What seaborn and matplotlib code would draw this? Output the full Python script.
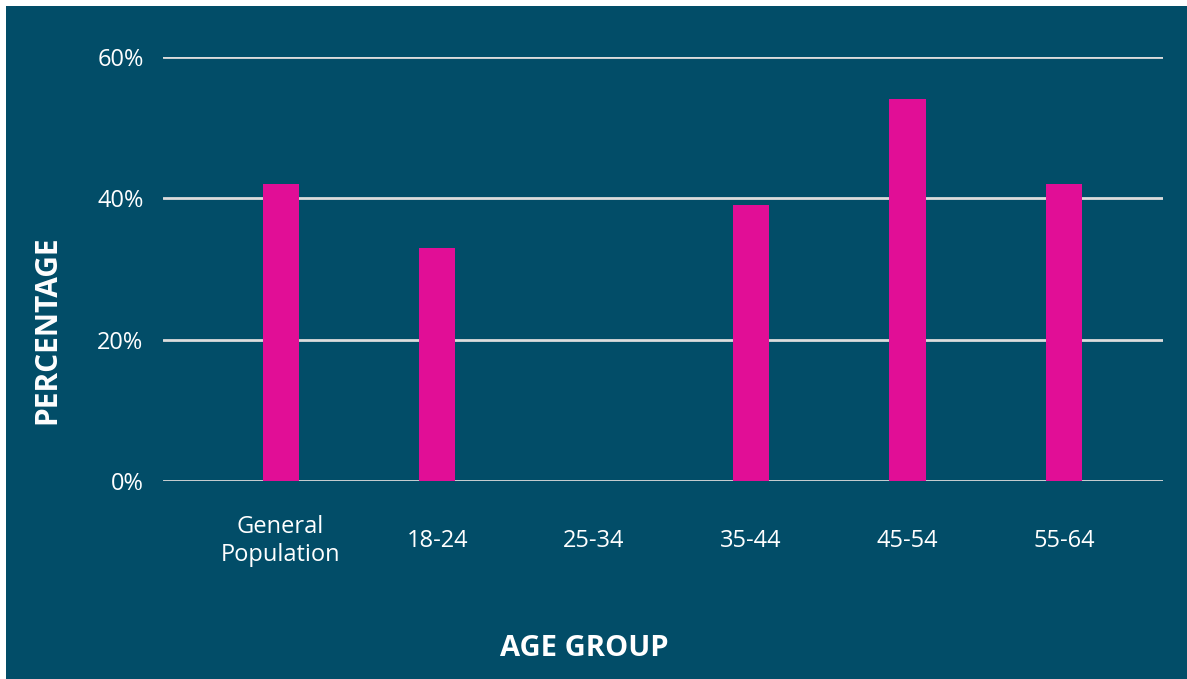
import matplotlib
matplotlib.use("Agg")
import matplotlib.pyplot as plt
from matplotlib.patches import Rectangle
import seaborn as sns
import pandas as pd

# Survey share by age group (percent)
groups = ["General\nPopulation", "18-24", "25-34", "35-44", "45-54", "55-64"]
shares = [42, 33, 0, 39, 54, 42]
y_ticks = [0, 20, 40, 60]
y_tick_labels = ["0%", "20%", "40%", "60%"]

BG = "#024d68"
BAR = "#e10e96"
GRID = "#dcdcdc"
FONT = ["Open Sans", "DejaVu Sans"]

sns.set_theme(style="white")
plt.rcParams["font.family"] = FONT

df = pd.DataFrame({"group": groups, "share": shares})

fig = plt.figure(figsize=(11.87, 6.79), dpi=100, facecolor="white")
fig.patches.append(Rectangle((6 / 1187, 0), 1, 1 - 6 / 679, transform=fig.transFigure,
                             facecolor=BG, edgecolor="none", zorder=-10))
ax = fig.add_axes([163 / 1187, 1 - 481 / 679, 1000 / 1187, (481 - 57) / 679])
ax.patch.set_alpha(0)

sns.barplot(data=df, x="group", y="share", color=BAR, width=0.23,
            saturation=1, linewidth=0, ax=ax, zorder=3)

ax.set_ylim(0, 60)
ax.set_xlim(-0.75, 5.63)
ax.set_yticks(y_ticks)
ax.set_yticklabels(y_tick_labels)
ax.yaxis.grid(True, color=GRID, linewidth=2, zorder=1)
ax.set_axisbelow(True)
for s in ax.spines.values():
    s.set_visible(False)

ax.tick_params(axis="y", length=0, pad=14, labelsize=17, labelcolor="white")
ax.tick_params(axis="x", length=0, pad=43, labelsize=17, labelcolor="white")
for lbl in ax.get_xticklabels():
    lbl.set_verticalalignment("center")
    lbl.set_linespacing(1.2)

ax.set_xlabel("AGE GROUP", fontsize=21, fontweight="bold", color="white", va="center")
ax.set_ylabel("PERCENTAGE", fontsize=21.5, fontweight="bold", color="white", va="center")
ax.xaxis.set_label_coords((584 - 163) / 1000, (481 - 648) / 424)
ax.yaxis.set_label_coords((47 - 163) / 1000, (481 - 330) / 424)

fig.savefig("out.png", dpi=100, facecolor=fig.get_facecolor())
